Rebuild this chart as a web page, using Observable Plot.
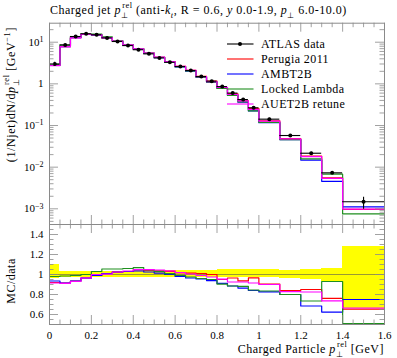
<!DOCTYPE html>
<html><head><meta charset="utf-8">
<script src="https://cdn.jsdelivr.net/npm/d3@7"></script>
<script src="https://cdn.jsdelivr.net/npm/@observablehq/plot@0.6"></script>
<style>
html,body{margin:0;padding:0;background:#fff;}
#chart{position:relative;width:397px;height:358px;overflow:hidden;background:#fff;}
#chart svg{position:absolute;left:0;}
</style></head><body><div id="chart"></div>
<script>
// ---- data ----
const binEdges = [0,0.05,0.1,0.15,0.2,0.25,0.3,0.35,0.4,0.45,0.5,0.55,0.6,0.65,0.7,0.75,0.8,0.85,0.9,0.95,1.0,1.1,1.2,1.3,1.4,1.6];
const atlasData = [3.0,8.6,13.7,15.9,15.1,12.7,10.4,8.3,6.6,5.25,4.2,3.3,2.6,2.09,1.50,1.16,0.86,0.60,0.42,0.266,0.142,0.0575,0.0216,0.0073,0.00148];
const atlasErrUp = [0.10,0.035,0.03,0.03,0.03,0.03,0.03,0.03,0.035,0.035,0.035,0.04,0.04,0.045,0.045,0.045,0.05,0.05,0.05,0.055,0.05,0.045,0.055,0.065,0.28];
const atlasErrDown = [0.04,0.03,0.025,0.025,0.025,0.025,0.025,0.025,0.025,0.025,0.025,0.025,0.025,0.025,0.025,0.025,0.025,0.025,0.025,0.025,0.03,0.04,0.045,0.065,0.34];
const perugia2011 = [2.76,7.87,12.81,15.34,15.02,12.83,10.66,8.55,6.90,5.46,4.35,3.40,2.65,2.12,1.515,1.16,0.817,0.579,0.393,0.257,0.1285,0.0483,0.01836,0.00555,0.000969];
const ambt2b = [2.805,7.87,12.81,15.34,14.95,12.83,10.66,8.55,6.83,5.38,4.26,3.30,2.548,2.017,1.4325,1.090,0.783,0.531,0.363,0.2234,0.1172,0.046,0.0148,0.00456,0.00111];
const lockedLambda = [2.94,8.47,13.56,15.9,15.55,13.40,10.97,8.80,7.06,5.49,4.33,3.33,2.574,2.038,1.44,1.102,0.778,0.531,0.370,0.2248,0.1186,0.046,0.01588,0.00679,0.000755];
const auet2bRetune = [2.745,7.83,12.74,15.34,15.1,12.76,10.66,8.59,6.93,5.51,4.39,3.42,2.65,2.10,1.485,1.131,0.821,0.555,0.3885,0.2434,0.1278,0.0477,0.01782,0.00537,0.000984];
const seriesNames = ["Perugia 2011","AMBT2B","Locked Lambda","AUET2B retune"];
const seriesColors = ["#ff0000","#0000ff","#1f8f1f","#ff00ff"];
const xTicks = [0,0.2,0.4,0.6,0.8,1.0,1.2,1.4,1.6];
const xTickLabels = ["0","0.2","0.4","0.6","0.8","1","1.2","1.4","1.6"];
const yTicksMain = [1e-3,1e-2,1e-1,1,10];
const yTickLabelsMain = ["10^−3","10^−2","10^−1","1","10^1"];
const ratioTicks = [0.6,0.8,1.0,1.2,1.4];
const ratioTickLabels = ["0.6","0.8","1","1.2","1.4"];

// ---- layout ----
const W = 397, mL = 49, mR = 13;
const topH = 224, topMT = 22.7;
const botH = 134, botMB = 34;
const xDom = [0, 1.6];
const yDom = [4.2e-4, 28.6];
const rDom = [0.5, 1.5];
const frameColor = "#8a8a8a";
const FONT = "Liberation Serif";

const seriesVals = [perugia2011, ambt2b, lockedLambda, auet2bRetune];
const bins = atlasData.map((v,i)=>({lo:binEdges[i], hi:binEdges[i+1], c:(binEdges[i]+binEdges[i+1])/2, v,
  up: v*(1+atlasErrUp[i]), dn: v*(1-atlasErrDown[i]), rUp: 1+atlasErrUp[i], rDn: 1-atlasErrDown[i]}));
function steps(vals){const p=[];vals.forEach((v,i)=>{p.push({x:binEdges[i],y:v});p.push({x:binEdges[i+1],y:v});});return p;}

const kx = (xDom[1]-xDom[0])/(W-mL-mR);
const fy = Math.pow(yDom[1]/yDom[0], 1/(topH-topMT));
const kr = (rDom[1]-rDom[0])/(botH-botMB);
const xMinor = d3.range(0,33).map(i=>i*0.05).filter(v=>Math.round(v*100)%20!==0);
const yMinorMain = [];
[-4,-3,-2,-1,0,1].forEach(e=>{for(let m=2;m<=9;m++){const v=m*Math.pow(10,e); if(v>yDom[0]&&v<yDom[1]) yMinorMain.push(v);}});
const rMinor = d3.range(0,21).map(i=>0.5+i*0.05).filter(v=>!ratioTicks.some(t=>Math.abs(t-v)<1e-6)&&v>0.5+1e-6&&v<1.5-1e-6);

const LMAJ = 9, LMIN = 4.5;
function xTickMarksLog(ticks, len){
  return [
    Plot.ruleX(ticks,{x:d=>d, y1:yDom[0], y2:yDom[0]*Math.pow(fy,len), stroke:frameColor, strokeWidth:0.8}),
    Plot.ruleX(ticks,{x:d=>d, y1:yDom[1]/Math.pow(fy,len), y2:yDom[1], stroke:frameColor, strokeWidth:0.8})
  ];
}
function yTickMarks(ticks, len){
  return [
    Plot.ruleY(ticks,{y:d=>d, x1:xDom[0], x2:xDom[0]+len*kx, stroke:frameColor, strokeWidth:0.8}),
    Plot.ruleY(ticks,{y:d=>d, x1:xDom[1]-len*kx, x2:xDom[1], stroke:frameColor, strokeWidth:0.8})
  ];
}
function xTickMarksLin(ticks, len){
  return [
    Plot.ruleX(ticks,{x:d=>d, y1:rDom[0], y2:rDom[0]+len*kr, stroke:frameColor, strokeWidth:0.8}),
    Plot.ruleX(ticks,{x:d=>d, y1:rDom[1]-len*kr, y2:rDom[1], stroke:frameColor, strokeWidth:0.8})
  ];
}

const chart = document.getElementById("chart");

// ---- top panel ----
const topPlot = Plot.plot({
  width: W, height: topH, marginTop: topMT, marginBottom: 0, marginLeft: mL, marginRight: mR,
  style: {fontFamily: FONT, fontSize: "11px", background: "transparent", overflow: "visible"},
  x: {domain: xDom, axis: null},
  y: {type: "log", domain: yDom, axis: null},
  marks: [
    ...seriesVals.map((vals,k)=>Plot.line(steps(vals),{x:"x",y:"y",stroke:seriesColors[k],strokeWidth:1.2})),
    Plot.ruleY(bins,{x1:"lo",x2:"hi",y:"v",stroke:"black",strokeWidth:1.1}),
    Plot.ruleX(bins,{x:"c",y1:"dn",y2:"up",stroke:"black",strokeWidth:1.1}),
    Plot.dot(bins,{x:"c",y:"v",r:2,fill:"black",stroke:"none"}),
    ...xTickMarksLog(xTicks, LMAJ), ...xTickMarksLog(xMinor, LMIN),
    ...yTickMarks(yTicksMain, LMAJ), ...yTickMarks(yMinorMain, LMIN),
    Plot.frame({stroke: frameColor, strokeWidth: 1}),
    Plot.text(yTicksMain,{x:xDom[0], y:d=>d, text:(d,i)=>yTickLabelsMain[i], textAnchor:"end", dx:-6, fontSize:11, fill:"black"})
  ]
});
topPlot.style.top = "0px";
chart.appendChild(topPlot);

// ---- ratio panel ----
const ratioPlot = Plot.plot({
  width: W, height: botH, marginTop: 0, marginBottom: botMB, marginLeft: mL, marginRight: mR,
  style: {fontFamily: FONT, fontSize: "11px", background: "transparent", overflow: "visible"},
  x: {domain: xDom, axis: null},
  y: {domain: rDom, axis: null},
  marks: [
    Plot.rect(bins,{x1:"lo",x2:"hi",y1:"rDn",y2:"rUp",fill:"#ffff00",inset:0,shapeRendering:"crispEdges"}),
    Plot.ruleY([1],{stroke:"#555",strokeWidth:0.6}),
    ...seriesVals.map((vals,k)=>Plot.line(steps(vals.map((v,i)=>v/atlasData[i])),{x:"x",y:"y",stroke:seriesColors[k],strokeWidth:1.2,clip:true})),
    ...xTickMarksLin(xTicks, LMAJ), ...xTickMarksLin(xMinor, LMIN),
    ...yTickMarks(ratioTicks, LMAJ), ...yTickMarks(rMinor, LMIN),
    Plot.frame({stroke: frameColor, strokeWidth: 1}),
    Plot.text(ratioTicks,{x:xDom[0], y:d=>d, text:(d,i)=>ratioTickLabels[i], textAnchor:"end", dx:-6, fontSize:11, fill:"black"}),
    Plot.text(xTicks,{x:d=>d, y:rDom[0], text:(d,i)=>xTickLabels[i], dy:11, fontSize:11, fill:"black"})
  ]
});
ratioPlot.style.top = topH + "px";
chart.appendChild(ratioPlot);

const svgTop = d3.select(topPlot);
const svgBot = d3.select(ratioPlot);

svgTop.selectAll("text").each(function(){
  const t = this.textContent; const m = t.match(/^10\^(.+)$/);
  if (m) { const s = d3.select(this); s.text(""); s.append("tspan").text("10");
    s.append("tspan").attr("dy","-0.45em").attr("font-size","8px").text(m[1]); }
});

function pPerp(sel, fs, withRel){
  sel.append("tspan").attr("font-style","italic").text("p");
  sel.append("tspan").attr("font-size", fs*0.7).attr("dy", fs*0.3).text("⊥");
  if (withRel) {
    sel.append("tspan").attr("font-size", fs*0.7).attr("dx", -fs*0.7*0.75).attr("dy", -fs*0.78).text("rel");
    return fs*0.48;
  }
  return -fs*0.3;
}

// title
{
  const fs = 12;
  const t = svgTop.append("text").attr("x", 50).attr("y", 14).attr("text-anchor","start").attr("letter-spacing","0.5px")
    .attr("font-size", fs).attr("font-family", FONT).attr("fill","black");
  t.append("tspan").text("Charged jet ");
  let back = pPerp(t, fs, true);
  t.append("tspan").attr("dy", back).text(" (anti-");
  t.append("tspan").attr("font-style","italic").text("k");
  t.append("tspan").attr("font-size", fs*0.7).attr("dy", fs*0.3).attr("font-style","italic").text("t");
  t.append("tspan").attr("dy", -fs*0.3).text(", R = 0.6, ");
  t.append("tspan").attr("font-style","italic").text("y");
  t.append("tspan").text(" 0.0-1.9, ");
  back = pPerp(t, fs, false);
  t.append("tspan").attr("dy", back).text(" 6.0-10.0)");
}

// y label top
{
  const fs = 12;
  const t = svgTop.append("text").attr("transform","translate(15,27) rotate(-90)").attr("text-anchor","end").attr("letter-spacing","0.6px")
    .attr("font-size", fs).attr("font-family", FONT).attr("fill","black");
  t.append("tspan").text("(1/Njet)dN/d");
  const back = pPerp(t, fs, true);
  t.append("tspan").attr("dy", back).text(" [GeV");
  t.append("tspan").attr("font-size", fs*0.7).attr("dy", -fs*0.4).text("−1");
  t.append("tspan").attr("dy", fs*0.4).text("]");
}

// legend
{
  const fs = 12;
  const ys = [44, 59, 74, 89, 104];
  const g = svgTop.append("g").attr("font-family", FONT).attr("font-size", fs);
  const names = ["ATLAS data", ...seriesNames];
  const colors = ["black", ...seriesColors];
  names.forEach((n,i)=>{
    g.append("line").attr("x1",227).attr("x2",253.5).attr("y1",ys[i]).attr("y2",ys[i]).attr("stroke",colors[i]).attr("stroke-width",1.1);
    if (i===0) g.append("circle").attr("cx",240).attr("cy",ys[i]).attr("r",2).attr("fill","black");
    g.append("text").attr("x",261).attr("y",ys[i]+4).attr("text-anchor","start").attr("letter-spacing","0.4px").attr("fill","black").text(n);
  });
}

svgBot.append("text").attr("transform","translate(15,57) rotate(-90)").attr("text-anchor","middle").attr("letter-spacing","0.5px")
  .attr("font-size",12).attr("font-family",FONT).attr("fill","black").text("MC/data");

{
  const fs = 12;
  const t = svgBot.append("text").attr("x",384).attr("y",129).attr("text-anchor","end").attr("letter-spacing","0.5px")
    .attr("font-size",fs).attr("font-family",FONT).attr("fill","black");
  t.append("tspan").text("Charged Particle ");
  const back = pPerp(t, fs, true);
  t.append("tspan").attr("dy", back).text(" [GeV]");
}
</script></body></html>
